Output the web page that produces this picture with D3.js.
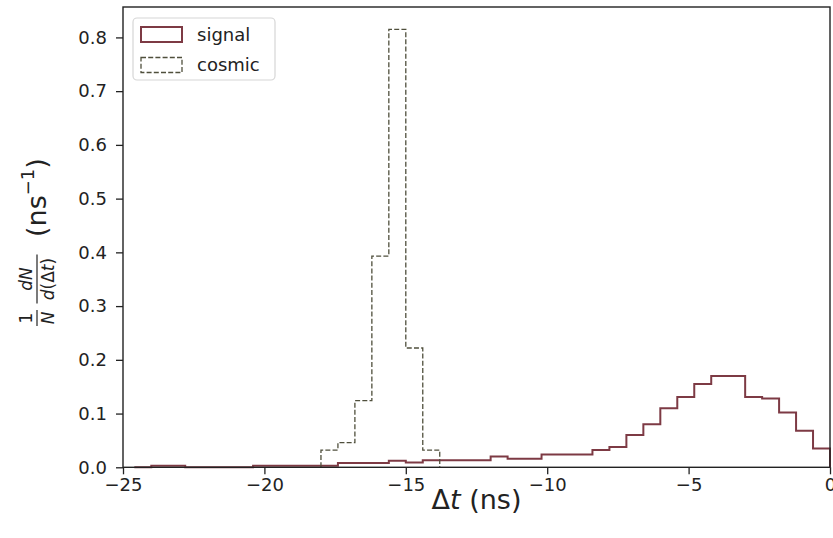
<!DOCTYPE html>
<html>
<head>
<meta charset="utf-8">
<script src="https://cdn.jsdelivr.net/npm/d3@7"></script>
<style>
  body { margin: 0; background: #fff; }
  svg { display: block; font-family: "DejaVu Sans", sans-serif; }
</style>
</head>
<body>
<div id="chart"></div>
<script>
// histogram data, bin width 0.6 ns
const binWidth = 0.6;

const signalStart = -24.6;
const signalValues = [
  0, 0.003, 0.003, 0, 0, 0, 0, 0.003, 0.003, 0.003,
  0.003, 0.003, 0.008, 0.008, 0.008, 0.012, 0.009, 0.013, 0.013, 0.013,
  0.013, 0.020, 0.016, 0.016, 0.024, 0.024, 0.024, 0.032, 0.038, 0.060,
  0.080, 0.110, 0.131, 0.155, 0.170, 0.170, 0.131, 0.128, 0.102, 0.068,
  0.035
];

const cosmicStart = -18.0;
const cosmicValues = [0.032, 0.046, 0.124, 0.393, 0.815, 0.222, 0.032];

const xTicks = [-25, -20, -15, -10, -5, 0];
const yTicks = [0, 0.1, 0.2, 0.3, 0.4, 0.5, 0.6, 0.7, 0.8];
const seriesNames = ["signal", "cosmic"];

const W = 833, H = 538;
const mLeft = 123, mRight = 830, mTop = 7, mBottom = 467.3;

const signalColor = "#7d3a44";
const cosmicColor = "#4f4f3c";

const svg = d3.select("#chart").append("svg")
  .attr("width", W)
  .attr("height", H);

const x = d3.scaleLinear().domain([-25, 0]).range([mLeft, mRight]);
const y = d3.scaleLinear().domain([0, 0.8566]).range([mBottom, mTop]);

// step outline like matplotlib histtype='step'
function stepPoints(start, values) {
  const pts = [[start, 0]];
  values.forEach((v, i) => {
    const x0 = start + i * binWidth;
    pts.push([x0, v]);
    pts.push([x0 + binWidth, v]);
  });
  pts.push([start + values.length * binWidth, 0]);
  return pts;
}

const line = d3.line()
  .x(d => x(d[0]))
  .y(d => y(d[1]));

svg.append("path")
  .attr("d", line(stepPoints(signalStart, signalValues)))
  .attr("fill", "none")
  .attr("stroke", signalColor)
  .attr("stroke-width", 2);

svg.append("path")
  .attr("d", line(stepPoints(cosmicStart, cosmicValues)))
  .attr("fill", "none")
  .attr("stroke", cosmicColor)
  .attr("stroke-width", 1.3)
  .attr("stroke-dasharray", "5,2.2");

// axes
const xAxis = svg.append("g")
  .attr("transform", `translate(0,${mBottom})`)
  .call(d3.axisBottom(x).tickValues(xTicks).tickFormat(d3.format("d")).tickSize(7).tickPadding(4));

const yAxis = svg.append("g")
  .attr("transform", `translate(${mLeft},0)`)
  .call(d3.axisLeft(y).tickValues(yTicks).tickFormat(d3.format(".1f")).tickSize(7).tickPadding(9));

[xAxis, yAxis].forEach(g => {
  g.select(".domain").remove();
  g.selectAll(".tick line").attr("stroke", "#222").attr("stroke-width", 1.3);
  g.selectAll(".tick text")
    .attr("fill", "#222")
    .style("font-family", "DejaVu Sans")
    .style("font-size", "18px");
});

// frame
svg.append("rect")
  .attr("x", mLeft)
  .attr("y", mTop)
  .attr("width", mRight - mLeft)
  .attr("height", mBottom - mTop)
  .attr("fill", "none")
  .attr("stroke", "#222")
  .attr("stroke-width", 1.4);

// x label
const xl = svg.append("text")
  .attr("x", (mLeft + mRight) / 2)
  .attr("y", 509)
  .attr("text-anchor", "middle")
  .style("font-size", "27px")
  .attr("fill", "#222");
xl.append("tspan").text("Δ");
xl.append("tspan").style("font-style", "italic").text("t");
xl.append("tspan").text(" (ns)");

// y label, rotated
const yl = svg.append("g")
  .attr("transform", "rotate(-90)")
  .attr("fill", "#222");

function frac(cx, num, den, w) {
  yl.append("line")
    .attr("x1", cx - w / 2).attr("x2", cx + w / 2)
    .attr("y1", 37).attr("y2", 37)
    .attr("stroke", "#222").attr("stroke-width", 1.2);
  const n = yl.append("text").attr("x", cx).attr("y", 32)
    .attr("text-anchor", "middle").style("font-size", "17px");
  num(n);
  const d = yl.append("text").attr("x", cx).attr("y", 54)
    .attr("text-anchor", "middle").style("font-size", "17px");
  den(d);
}

frac(-318, t => t.text("1"),
  t => t.append("tspan").style("font-style", "italic").text("N"), 16);
frac(-279, t => t.append("tspan").style("font-style", "italic").text("dN"),
  t => {
    t.append("tspan").style("font-style", "italic").text("d");
    t.append("tspan").text("(Δ");
    t.append("tspan").style("font-style", "italic").text("t");
    t.append("tspan").text(")");
  }, 49);

const unit = yl.append("text")
  .attr("x", -237)
  .attr("y", 46)
  .style("font-size", "27px");
unit.append("tspan").text("(ns");
unit.append("tspan").attr("dy", -12).style("font-size", "18px").text("−1");
unit.append("tspan").attr("dy", 12).text(")");

// legend
const lg = svg.append("g");
lg.append("rect")
  .attr("x", 133).attr("y", 18)
  .attr("width", 142).attr("height", 62)
  .attr("rx", 4)
  .attr("fill", "#fff").attr("fill-opacity", 0.8)
  .attr("stroke", "#d6d6d6").attr("stroke-width", 1.2);

seriesNames.forEach((name, i) => {
  const cy = 34.5 + i * 30.5;
  lg.append("rect")
    .attr("x", 141).attr("y", cy - 7.5)
    .attr("width", 41).attr("height", 15)
    .attr("fill", "none")
    .attr("stroke", i === 0 ? signalColor : cosmicColor)
    .attr("stroke-width", i === 0 ? 2 : 1.3)
    .attr("stroke-dasharray", i === 0 ? null : "5,2.2");
  lg.append("text")
    .attr("x", 197).attr("y", cy + 6)
    .style("font-size", "18px")
    .attr("fill", "#222")
    .text(name);
});
</script>
</body>
</html>
